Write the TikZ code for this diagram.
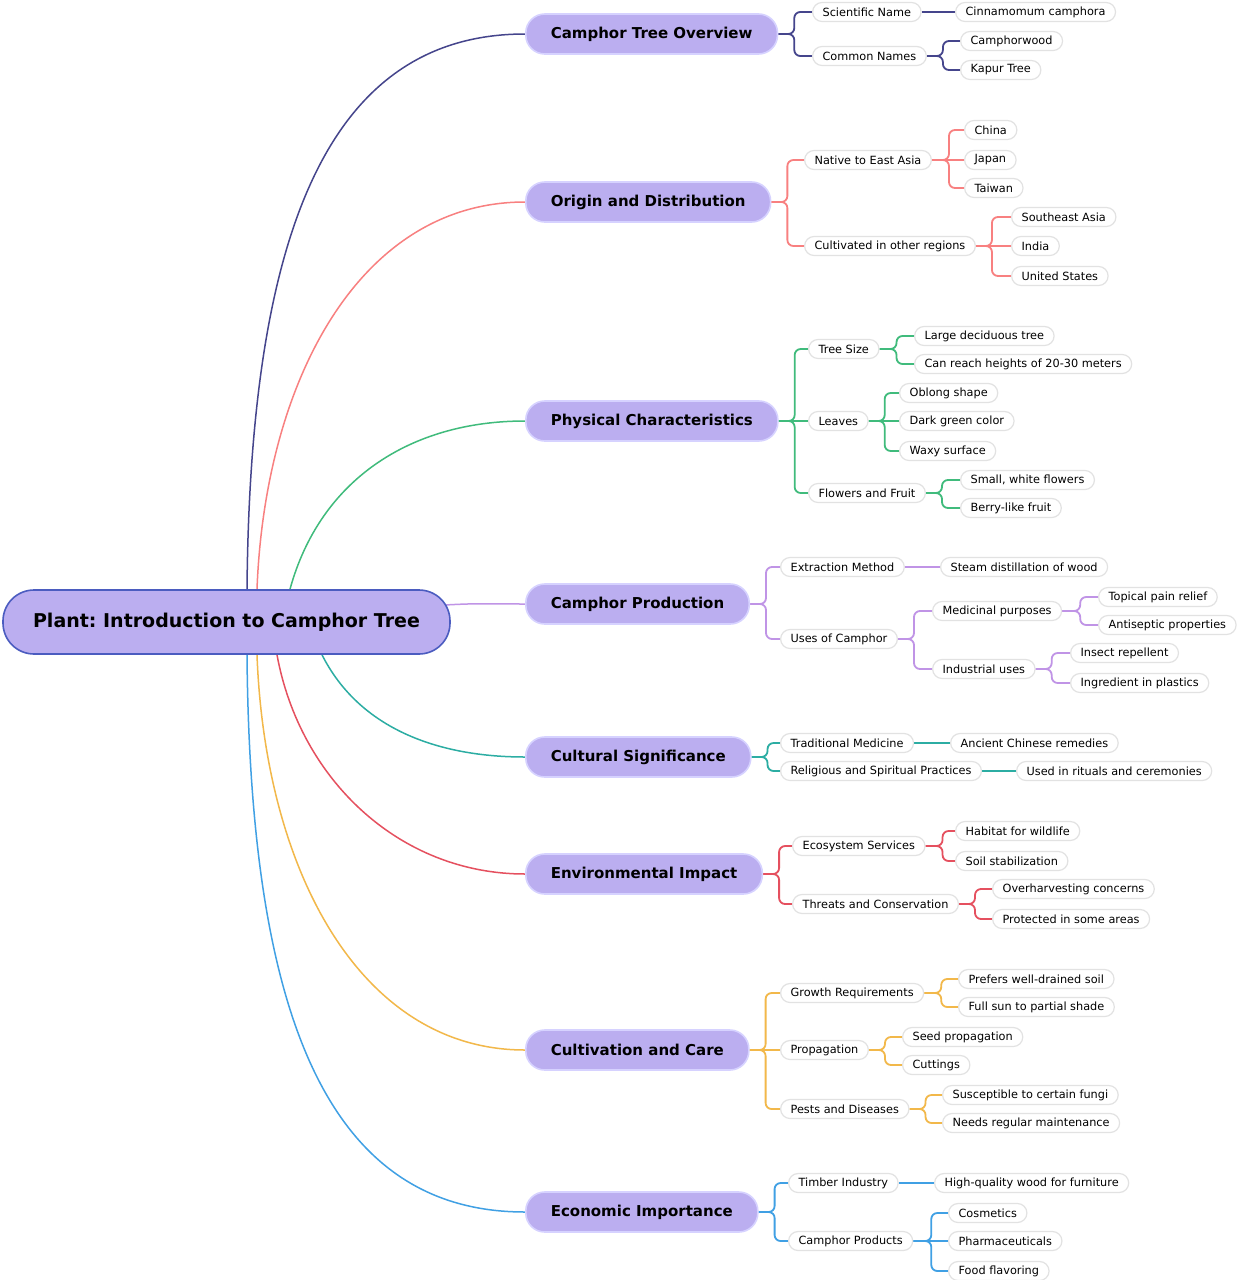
\documentclass[tikz,border=0pt]{standalone}
\usepackage{fontspec}
\setmainfont{DejaVu Sans}
\usetikzlibrary{backgrounds}
\definecolor{cA}{HTML}{45458C}
\definecolor{cB}{HTML}{F88080}
\definecolor{cC}{HTML}{40BB7C}
\definecolor{cD}{HTML}{C094E6}
\definecolor{cE}{HTML}{2CADA3}
\definecolor{cF}{HTML}{E5505F}
\definecolor{cG}{HTML}{F2B84A}
\definecolor{cH}{HTML}{40A0E4}
\definecolor{lav}{HTML}{BBAEF0}
\definecolor{lavborder}{HTML}{D6D2FF}
\definecolor{rootborder}{HTML}{4B5CC0}
\definecolor{leafgray}{HTML}{E2E2E2}
\frenchspacing
\begin{document}
\begin{tikzpicture}[x=1pt,y=-1pt,
  leaf/.style={anchor=west, draw=leafgray, line width=1.2pt, fill=white,
    rounded corners=9.5pt, minimum height=19pt, inner xsep=10pt, inner ysep=0pt,
    font=\fontsize{11.3}{13}\selectfont},
  topic/.style={anchor=west, draw=lavborder, line width=1.6pt, fill=lav,
    rounded corners=19pt, minimum height=40pt, inner xsep=25pt, inner ysep=0pt,
    font=\bfseries\fontsize{15}{18}\selectfont},
  rootnode/.style={draw=rootborder, line width=1.6pt, fill=lav,
    rounded corners=31pt, minimum height=64pt, minimum width=447pt, inner sep=0pt,
    font=\bfseries\fontsize{19}{22}\selectfont},
  conn/.style={line width=1.8pt, rounded corners=6pt},
  curve/.style={line width=1.5pt}]
\useasboundingbox (0,0) rectangle (1240,1280);

% root
\node[rootnode] (r) at (226.5,622) {\frenchspacing Plant: Introduction to Camphor Tree};

% branch 1
\node[topic] (b1) at (525,34) {Camphor Tree Overview};
\node[leaf] (b1a) at (812,12) {Scientific Name};
\node[leaf] (b1a1) at (955,12) {Cinnamomum camphora};
\node[leaf] (b1b) at (812,56) {Common Names};
\node[leaf] (b1b1) at (960,41) {Camphorwood};
\node[leaf] (b1b2) at (960,70) {Kapur Tree};

% branch 2
\node[topic] (b2) at (525,202) {Origin and Distribution};
\node[leaf] (b2a) at (804,160) {Native to East Asia};
\node[leaf] (b2a1) at (964,130) {China};
\node[leaf] (b2a2) at (964,160) {Japan};
\node[leaf] (b2a3) at (964,188) {Taiwan};
\node[leaf] (b2b) at (804,246) {Cultivated in other regions};
\node[leaf] (b2b1) at (1011,217) {Southeast Asia};
\node[leaf] (b2b2) at (1011,246) {India};
\node[leaf] (b2b3) at (1011,276) {United States};

% branch 3
\node[topic] (b3) at (525,421) {Physical Characteristics};
\node[leaf] (b3a) at (808,349) {Tree Size};
\node[leaf] (b3a1) at (914,336) {Large deciduous tree};
\node[leaf] (b3a2) at (914,364) {Can reach heights of 20-30 meters};
\node[leaf] (b3b) at (808,421) {Leaves};
\node[leaf] (b3b1) at (899,393) {Oblong shape};
\node[leaf] (b3b2) at (899,421) {Dark green color};
\node[leaf] (b3b3) at (899,451) {Waxy surface};
\node[leaf] (b3c) at (808,493) {Flowers and Fruit};
\node[leaf] (b3c1) at (960,480) {Small, white flowers};
\node[leaf] (b3c2) at (960,508) {Berry-like fruit};

% branch 4
\node[topic] (b4) at (525,604) {Camphor Production};
\node[leaf] (b4a) at (780,567) {Extraction Method};
\node[leaf] (b4a1) at (940,567) {Steam distillation of wood};
\node[leaf] (b4b) at (780,639) {Uses of Camphor};
\node[leaf] (b4b1) at (932,611) {Medicinal purposes};
\node[leaf] (b4b2) at (932,669) {Industrial uses};
\node[leaf] (b4b1a) at (1098,597) {Topical pain relief};
\node[leaf] (b4b1b) at (1098,625) {Antiseptic properties};
\node[leaf] (b4b2a) at (1070,653) {Insect repellent};
\node[leaf] (b4b2b) at (1070,683) {Ingredient in plastics};

% branch 5
\node[topic] (b5) at (525,757) {Cultural Significance};
\node[leaf] (b5a) at (780,743) {Traditional Medicine};
\node[leaf] (b5a1) at (950,743) {Ancient Chinese remedies};
\node[leaf] (b5b) at (780,771) {Religious and Spiritual Practices};
\node[leaf] (b5b1) at (1016,771) {Used in rituals and ceremonies};

% branch 6
\node[topic] (b6) at (525,874) {Environmental Impact};
\node[leaf] (b6a) at (792,846) {Ecosystem Services};
\node[leaf] (b6a1) at (955,831) {Habitat for wildlife};
\node[leaf] (b6a2) at (955,861) {Soil stabilization};
\node[leaf] (b6b) at (792,904) {Threats and Conservation};
\node[leaf] (b6b1) at (992,889) {Overharvesting concerns};
\node[leaf] (b6b2) at (992,919) {Protected in some areas};

% branch 7
\node[topic] (b7) at (525,1050) {Cultivation and Care};
\node[leaf] (b7a) at (780,993) {Growth Requirements};
\node[leaf] (b7a1) at (958,979) {Prefers well-drained soil};
\node[leaf] (b7a2) at (958,1007) {Full sun to partial shade};
\node[leaf] (b7b) at (780,1050) {Propagation};
\node[leaf] (b7b1) at (902,1037) {Seed propagation};
\node[leaf] (b7b2) at (902,1065) {Cuttings};
\node[leaf] (b7c) at (780,1109) {Pests and Diseases};
\node[leaf] (b7c1) at (942,1095) {Susceptible to certain fungi};
\node[leaf] (b7c2) at (942,1123) {Needs regular maintenance};

% branch 8
\node[topic] (b8) at (525,1212) {Economic Importance};
\node[leaf] (b8a) at (788,1183) {Timber Industry};
\node[leaf] (b8a1) at (934,1183) {High-quality wood for furniture};
\node[leaf] (b8b) at (788,1241) {Camphor Products};
\node[leaf] (b8b1) at (948,1213) {Cosmetics};
\node[leaf] (b8b2) at (948,1241) {Pharmaceuticals};
\node[leaf] (b8b3) at (948,1271) {Food flavoring};

\begin{scope}[on background layer]
\fill[white] (0,0) rectangle (1240,1280);
% root curves
\draw[curve,cA] ([xshift=20.5pt]r.north) .. controls (250,250) and (320,34) .. (b1.west);
\draw[curve,cB] ([xshift=30.5pt]r.north) .. controls (265,380) and (360,202) .. (b2.west);
\draw[curve,cC] ([xshift=63.5pt]r.north) .. controls (320,480) and (410,421) .. (b3.west);
\draw[curve,cD] ([xshift=-6pt,yshift=17pt]r.east) .. controls (480,603) and (490,604) .. (b4.west);
\draw[curve,cE] ([xshift=95.5pt]r.south) .. controls (360,730) and (440,757) .. (b5.west);
\draw[curve,cF] ([xshift=50.5pt]r.south) .. controls (300,780) and (400,874) .. (b6.west);
\draw[curve,cG] ([xshift=30.5pt]r.south) .. controls (265,870) and (360,1050) .. (b7.west);
\draw[curve,cH] ([xshift=20.5pt]r.south) .. controls (250,1000) and (320,1212) .. (b8.west);

% branch 1
\draw[conn,cA] (b1.east) -- ++(16,0) |- (b1a.west);
\draw[conn,cA] (b1.east) -- ++(16,0) |- (b1b.west);
\draw[conn,cA] (b1a.east) -- (b1a1.west);
\draw[conn,cA] (b1b.east) -- ++(16,0) |- (b1b1.west);
\draw[conn,cA] (b1b.east) -- ++(16,0) |- (b1b2.west);
% branch 2
\draw[conn,cB] (b2.east) -- ++(16,0) |- (b2a.west);
\draw[conn,cB] (b2.east) -- ++(16,0) |- (b2b.west);
\draw[conn,cB] (b2a.east) -- ++(17,0) |- (b2a1.west);
\draw[conn,cB] (b2a.east) -- (b2a2.west);
\draw[conn,cB] (b2a.east) -- ++(17,0) |- (b2a3.west);
\draw[conn,cB] (b2b.east) -- ++(16,0) |- (b2b1.west);
\draw[conn,cB] (b2b.east) -- (b2b2.west);
\draw[conn,cB] (b2b.east) -- ++(16,0) |- (b2b3.west);
% branch 3
\draw[conn,cC] (b3.east) -- ++(16,0) |- (b3a.west);
\draw[conn,cC] (b3.east) -- (b3b.west);
\draw[conn,cC] (b3.east) -- ++(16,0) |- (b3c.west);
\draw[conn,cC] (b3a.east) -- ++(17,0) |- (b3a1.west);
\draw[conn,cC] (b3a.east) -- ++(17,0) |- (b3a2.west);
\draw[conn,cC] (b3b.east) -- ++(16,0) |- (b3b1.west);
\draw[conn,cC] (b3b.east) -- (b3b2.west);
\draw[conn,cC] (b3b.east) -- ++(16,0) |- (b3b3.west);
\draw[conn,cC] (b3c.east) -- ++(16,0) |- (b3c1.west);
\draw[conn,cC] (b3c.east) -- ++(16,0) |- (b3c2.west);
% branch 4
\draw[conn,cD] (b4.east) -- ++(16,0) |- (b4a.west);
\draw[conn,cD] (b4.east) -- ++(16,0) |- (b4b.west);
\draw[conn,cD] (b4a.east) -- (b4a1.west);
\draw[conn,cD] (b4b.east) -- ++(16,0) |- (b4b1.west);
\draw[conn,cD] (b4b.east) -- ++(16,0) |- (b4b2.west);
\draw[conn,cD] (b4b1.east) -- ++(18,0) |- (b4b1a.west);
\draw[conn,cD] (b4b1.east) -- ++(18,0) |- (b4b1b.west);
\draw[conn,cD] (b4b2.east) -- ++(16,0) |- (b4b2a.west);
\draw[conn,cD] (b4b2.east) -- ++(16,0) |- (b4b2b.west);
% branch 5
\draw[conn,cE] (b5.east) -- ++(16,0) |- (b5a.west);
\draw[conn,cE] (b5.east) -- ++(16,0) |- (b5b.west);
\draw[conn,cE] (b5a.east) -- (b5a1.west);
\draw[conn,cE] (b5b.east) -- (b5b1.west);
% branch 6
\draw[conn,cF] (b6.east) -- ++(16,0) |- (b6a.west);
\draw[conn,cF] (b6.east) -- ++(16,0) |- (b6b.west);
\draw[conn,cF] (b6a.east) -- ++(17,0) |- (b6a1.west);
\draw[conn,cF] (b6a.east) -- ++(17,0) |- (b6a2.west);
\draw[conn,cF] (b6b.east) -- ++(16,0) |- (b6b1.west);
\draw[conn,cF] (b6b.east) -- ++(16,0) |- (b6b2.west);
% branch 7
\draw[conn,cG] (b7.east) -- ++(16,0) |- (b7a.west);
\draw[conn,cG] (b7.east) -- (b7b.west);
\draw[conn,cG] (b7.east) -- ++(16,0) |- (b7c.west);
\draw[conn,cG] (b7a.east) -- ++(17,0) |- (b7a1.west);
\draw[conn,cG] (b7a.east) -- ++(17,0) |- (b7a2.west);
\draw[conn,cG] (b7b.east) -- ++(16,0) |- (b7b1.west);
\draw[conn,cG] (b7b.east) -- ++(16,0) |- (b7b2.west);
\draw[conn,cG] (b7c.east) -- ++(16,0) |- (b7c1.west);
\draw[conn,cG] (b7c.east) -- ++(16,0) |- (b7c2.west);
% branch 8
\draw[conn,cH] (b8.east) -- ++(16,0) |- (b8a.west);
\draw[conn,cH] (b8.east) -- ++(16,0) |- (b8b.west);
\draw[conn,cH] (b8a.east) -- (b8a1.west);
\draw[conn,cH] (b8b.east) -- ++(18,0) |- (b8b1.west);
\draw[conn,cH] (b8b.east) -- (b8b2.west);
\draw[conn,cH] (b8b.east) -- ++(18,0) |- (b8b3.west);
\end{scope}
\end{tikzpicture}
\end{document}
